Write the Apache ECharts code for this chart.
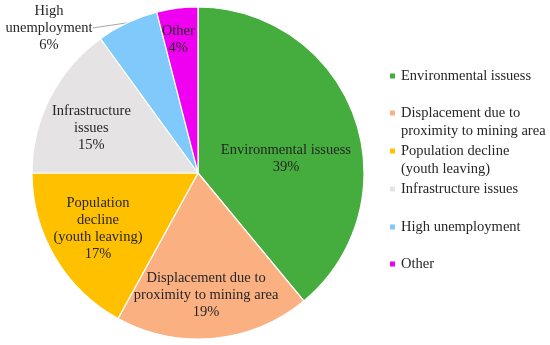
<!DOCTYPE html>
<html>
<head>
<meta charset="utf-8">
<script src="https://cdn.jsdelivr.net/npm/echarts@6/dist/echarts.min.js"></script>
<style>
html,body{margin:0;padding:0;background:#fff;}
#main{width:550px;height:345px;}
</style>
</head>
<body>
<div id="main"></div>
<script>
const categories = ['Environmental issuess','Displacement due to proximity to mining area','Population decline (youth leaving)','Infrastructure issues','High unemployment','Other'];
const values = [39, 19, 17, 15, 6, 4];
const pieLabels = ['Environmental issuess','Displacement due to\nproximity to mining area','Population\ndecline\n(youth leaving)','Infrastructure\nissues','High\nunemployment','Other'];
const legendLabels = ['Environmental issuess',' \nDisplacement due to\nproximity to mining area',' \nPopulation decline\n(youth leaving)','Infrastructure issues','High unemployment','Other'];
const colors = ['#45ad3e','#fbb082','#ffc000','#e5e3e3','#7fcafa','#f000f0'];

const FONT = 'Liberation Serif';
const FS = 14.5;
const TXT = '#262626';

// label nudges (px) from the default inside position
const labelShift = [[7,15],[0,37],[-26,12],[-30,-6],null,[-9,-48]];
// outside label (High unemployment) placement
const outsideLabelPos = {x: 49, y: 28};
const legendTops = [67, 86, 124, 180, 218, 255];

const chart = echarts.init(document.getElementById('main'), null, {renderer:'canvas'});

const legends = categories.map((c, i) => ({
  data: [c],
  left: 388,
  top: legendTops[i],
  orient: 'vertical',
  padding: 0,
  icon: 'rect',
  itemWidth: 7,
  itemHeight: 7,
  selectedMode: false,
  formatter: () => legendLabels[i],
  textStyle: {fontFamily: FONT, fontSize: FS, color: TXT, lineHeight: 18}
}));

const data = categories.map((c, i) => {
  const d = {name: c, value: values[i], itemStyle: {color: colors[i]}};
  if (i === 4) {
    d.label = {position: 'outside'};
    d.labelLine = {show: true, length: 2, length2: 0, lineStyle: {color: '#a6a6a6', width: 1}};
  }
  return d;
});

chart.setOption({
  animation: false,
  legend: legends,
  series: [{
    type: 'pie',
    center: [198, 173],
    radius: [0, 166],
    startAngle: 90,
    clockwise: true,
    avoidLabelOverlap: false,
    itemStyle: {borderColor: '#ffffff', borderWidth: 1.2},
    label: {
      show: true,
      position: 'inside',
      fontFamily: FONT,
      fontSize: FS,
      color: TXT,
      lineHeight: 17,
      align: 'center',
      formatter: p => pieLabels[p.dataIndex] + '\n' + p.value + '%'
    },
    labelLine: {show: false},
    labelLayout: p => {
      if (p.dataIndex === 4) return {x: outsideLabelPos.x, y: outsideLabelPos.y, align: 'center', verticalAlign: 'middle'};
      const s = labelShift[p.dataIndex];
      return s ? {dx: s[0], dy: s[1]} : {};
    },
    emphasis: {disabled: true},
    data: data
  }]
});
</script>
</body>
</html>
